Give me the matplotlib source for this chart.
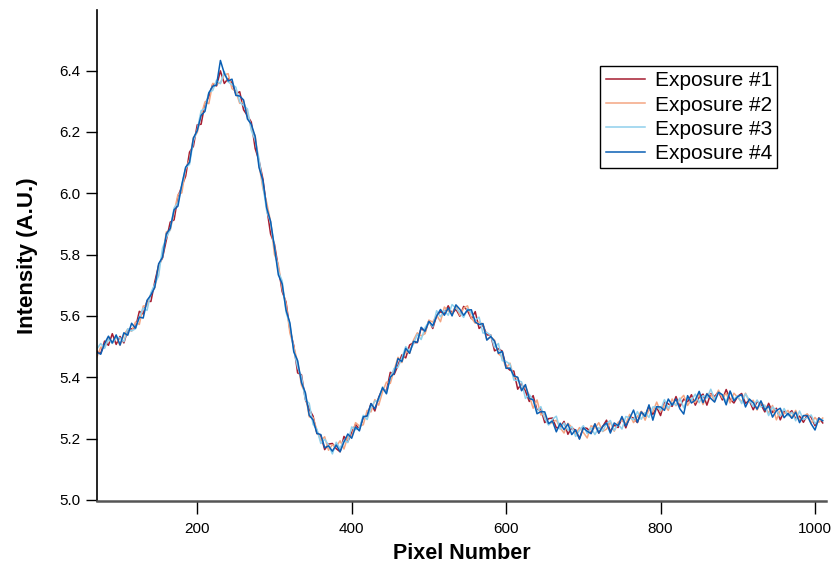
import numpy as np
import matplotlib
matplotlib.use('Agg')
import matplotlib.pyplot as plt

plt.rcParams['font.family'] = ['Liberation Sans', 'DejaVu Sans']

# detector pixel positions, one sample every 5 pixels
pixels = np.arange(70, 1011, 5)

# mean intensity
base = [
    5.48, 5.49, 5.50, 5.51, 5.52, 5.522, 5.525, 5.532, 5.54, 5.555,
    5.57, 5.59, 5.61, 5.637, 5.665, 5.705, 5.745, 5.80, 5.85, 5.89,
    5.935, 5.98, 6.02, 6.07, 6.115, 6.16, 6.21, 6.25, 6.285, 6.315,
    6.34, 6.36, 6.375, 6.375, 6.37, 6.35, 6.33, 6.31, 6.285, 6.255,
    6.22, 6.165, 6.10, 6.03, 5.96, 5.89, 5.82, 5.755, 5.69, 5.625,
    5.56, 5.495, 5.43, 5.385, 5.34, 5.295, 5.255, 5.225, 5.20, 5.185,
    5.175, 5.17, 5.17, 5.175, 5.185, 5.20, 5.215, 5.23, 5.245, 5.26,
    5.28, 5.295, 5.31, 5.33, 5.35, 5.37, 5.39, 5.415, 5.44, 5.46,
    5.48, 5.495, 5.51, 5.525, 5.54, 5.555, 5.57, 5.583, 5.595, 5.603,
    5.61, 5.615, 5.62, 5.62, 5.62, 5.615, 5.61, 5.60, 5.59, 5.575,
    5.56, 5.543, 5.525, 5.505, 5.485, 5.465, 5.445, 5.425, 5.405, 5.388,
    5.37, 5.352, 5.335, 5.318, 5.30, 5.285, 5.27, 5.26, 5.25, 5.245,
    5.24, 5.235, 5.23, 5.228, 5.225, 5.223, 5.222, 5.223, 5.225, 5.228,
    5.23, 5.233, 5.235, 5.238, 5.24, 5.245, 5.25, 5.255, 5.26, 5.265,
    5.27, 5.275, 5.28, 5.285, 5.29, 5.295, 5.30, 5.305, 5.31, 5.313,
    5.315, 5.318, 5.32, 5.323, 5.325, 5.328, 5.33, 5.333, 5.335, 5.337,
    5.338, 5.338, 5.338, 5.337, 5.335, 5.333, 5.33, 5.328, 5.325, 5.32,
    5.315, 5.31, 5.305, 5.30, 5.295, 5.29, 5.285, 5.283, 5.28, 5.278,
    5.275, 5.273, 5.27, 5.268, 5.265, 5.263, 5.26, 5.258, 5.255,
]

# per-exposure deviation from the mean, in thousandths
dev1 = [
    5, -12, 18, -6, 22, -15, 8, -20, 14, 3,
    -9, 25, -4, 11, -18, 6, 20, -11, -3, 16,
    -22, 9, 2, -14, 19, -7, 13, -25, 7, 0,
    15, -10, 24, -17, 4, 10, -6, 21, -13, -2,
    12, -19, 6, 17, -8, -23, 14, 3, -11, 20,
    -5, 8, -16, 23, -12, 1, 18, -9, 11, -21,
    7, 14, -3, -18, 22, -10, 5, 16, -14, 9,
    -7, 19, -20, 4, 12, -15, 26, -6, -1, 13,
    -17, 10, 3, -12, 21, -8, 15, -24, 6, 11,
    -4, 18, -13, 2, -21, 16, 7, -9, 24, -16,
    10, -5, 13, -19, 8, 20, -11, -2, 15, -27,
    9, 3, -14, 22, -7, 12, -18, 5, 17, -10,
    -3, 21, -16, 8, 1, -22, 14, 10, -8, 19,
    -12, 6, 25, -15, 4, -9, 17, -20, 11, 2,
    -18, 13, -6, 20, -11, 7, -25, 16, 3, -8,
    22, -14, 9, -3, 18, -19, 5, 12, -26, 10,
    -1, 15, -12, 23, -7, -17, 8, 19, -10, 4,
    -21, 11, 6, -13, 20, -5, 14, -22, 9, 1,
    16, -9, 3, -15, 12, 7, -18, 10, -4,
]
dev2 = [
    -14, 8, -3, 19, -9, 12, -21, 6, 17, -5,
    10, -18, 22, -2, 7, -13, 15, -8, 24, -11,
    3, 16, -19, 9, -6, 21, -12, 4, 13, -23,
    18, -4, -15, 11, 20, -9, 2, -17, 14, 7,
    -10, 23, -6, -14, 9, 17, -20, 12, -1, 15,
    -16, 5, 19, -11, 8, -24, 13, 2, -7, 21,
    -13, 10, 4, 18, -19, 6, -9, 22, -4, -15,
    12, -8, 17, -21, 3, 14, -10, 9, 25, -12,
    6, -17, 11, 20, -5, -13, 16, -3, 8, -22,
    19, 1, -11, 14, -18, 10, 23, -7, -14, 5,
    13, -20, 7, 16, -9, 2, -15, 21, -6, 11,
    -12, 18, 4, -19, 26, -8, 10, -14, 3, 15,
    -5, -17, 20, 9, -11, 13, -2, -21, 17, 6,
    22, -10, -4, 15, -16, 8, 11, -7, 19, -13,
    2, 14, -20, 10, -3, 24, -12, 5, -18, 16,
    -8, 9, 21, -15, 3, -11, 17, -22, 12, 7,
    -14, 20, -6, 11, -19, 15, 4, -9, 23, -2,
    10, -17, 13, 5, -12, 18, -24, 8, 1, 14,
    -7, 19, -11, 4, 16, -13, 9, -5, 12,
]
dev3 = [
    12, 20, -6, 14, -10, 9, 3, -16, 18, -4,
    -12, 7, 15, -19, 11, -2, -14, 21, 5, -8,
    17, -11, 6, 13, -21, 10, -3, 19, -9, 14,
    -5, 9, -18, 22, -7, 4, 16, -12, 1, 20,
    -15, 8, 12, -3, -19, 15, 6, -10, 24, -13,
    11, -7, 2, 17, -14, 20, -9, 5, -16, 13,
    4, -20, 18, -8, 10, -13, 23, -1, -11, 16,
    -18, 6, 12, -5, 19, -22, 9, 14, -7, 3,
    20, -10, -2, 15, -17, 7, 11, -19, 22, -6,
    8, -13, 17, 5, -9, -20, 14, 10, -4, 21,
    -16, 3, 12, -8, 25, -11, 6, 18, -14, 1,
    15, -21, 9, 7, -12, 19, -5, -16, 13, 28,
    -10, 16, -3, 11, -18, 4, 20, -7, 10, -15,
    6, -9, 14, 21, -13, 2, -19, 17, 8, -4,
    18, -12, 5, -16, 13, 9, -8, 22, -11, 3,
    -6, 14, -20, 10, 1, 17, -13, 7, -3, 24,
    -9, 12, 4, -17, 19, -5, 10, -14, 21, 6,
    -11, 16, -2, 9, -20, 13, 7, -10, 18, -4,
    11, -15, 20, -6, 3, 14, -12, 8, 5,
]
dev4 = [
    2, -15, 10, 24, -8, 16, -20, 13, -3, 21,
    -10, 6, -17, 14, 3, -12, 25, -9, 18, -5,
    11, -22, 8, 15, -14, 20, -6, 4, -18, 12,
    9, -7, 58, 16, -4, 22, -11, 7, 19, -13,
    5, 20, -16, 12, -9, 18, 3, -21, 14, -6,
    17, -12, 24, -3, 10, -19, 6, -8, 13, -15,
    1, -11, 9, -18, 4, 15, -14, 8, -20, 11,
    -6, 19, -13, 3, 16, -24, 10, -2, 21, -9,
    14, -17, 7, -11, 23, -5, 12, -15, 4, 18,
    -8, 11, -20, 16, 2, -13, 9, 20, -10, -3,
    15, -22, 8, 13, -7, 19, -16, 5, -1, 12,
    -14, 24, -5, 9, -19, 3, 17, -11, 7, -23,
    10, -6, 18, -15, 4, -25, 13, 1, -9, 20,
    -12, 7, 16, -20, 11, -3, 22, -14, 6, 28,
    -17, 12, -8, 25, -30, 9, 3, -13, 19, -4,
    14, -21, -40, 17, -9, -2, 24, -16, 11, -6,
    -19, 13, 5, -27, 20, -10, 7, 15, -22, 9,
    2, -14, 18, -7, 11, -20, 6, 16, -12, 4,
    -9, 13, -18, 7, 10, -15, -32, 8, 3,
]

labels = ['Exposure #1', 'Exposure #2', 'Exposure #3', 'Exposure #4']
colors = ['#a51c30', '#f4a582', '#8fd0ec', '#0a5fb4']
deviations = [dev1, dev2, dev3, dev4]

fig = plt.figure(figsize=(8.35, 5.64), dpi=100)
ax = fig.add_axes([0.116, 0.112, 0.873, 0.870])

base_arr = np.array(base)
for dev, color, label in zip(deviations, colors, labels):
    ax.plot(pixels, base_arr + np.array(dev) / 1000.0, color=color,
            linewidth=1.1, label=label)

ax.set_xlim(70, 1014)
ax.set_ylim(4.997, 6.597)
ax.set_xticks([200, 400, 600, 800, 1000])
ax.set_yticks(np.arange(5.0, 6.41, 0.2))
ax.yaxis.set_major_formatter(plt.FormatStrFormatter('%.1f'))

ax.spines['top'].set_visible(False)
ax.spines['right'].set_visible(False)
ax.spines['left'].set_linewidth(1.2)
ax.spines['bottom'].set_linewidth(1.8)
ax.spines['bottom'].set_color('#555555')
ax.tick_params(axis='y', direction='out', length=8, width=1,
               labelsize=11, pad=4)
ax.tick_params(axis='x', direction='out', length=9, width=1,
               labelsize=11, pad=6)

ax.set_xlabel('Pixel Number', fontsize=15.5, fontweight='bold', labelpad=5)
ax.set_ylabel('Intensity (A.U.)', fontsize=16, fontweight='bold', labelpad=15)

leg = ax.legend(loc='upper right', bbox_to_anchor=(0.933, 0.886),
                borderaxespad=0, fontsize=15, fancybox=False, framealpha=1,
                edgecolor='black', handlelength=1.9, handletextpad=0.45,
                labelspacing=0.25, borderpad=0.25)
leg.get_frame().set_linewidth(1)

fig.savefig('out.png', dpi=100)
